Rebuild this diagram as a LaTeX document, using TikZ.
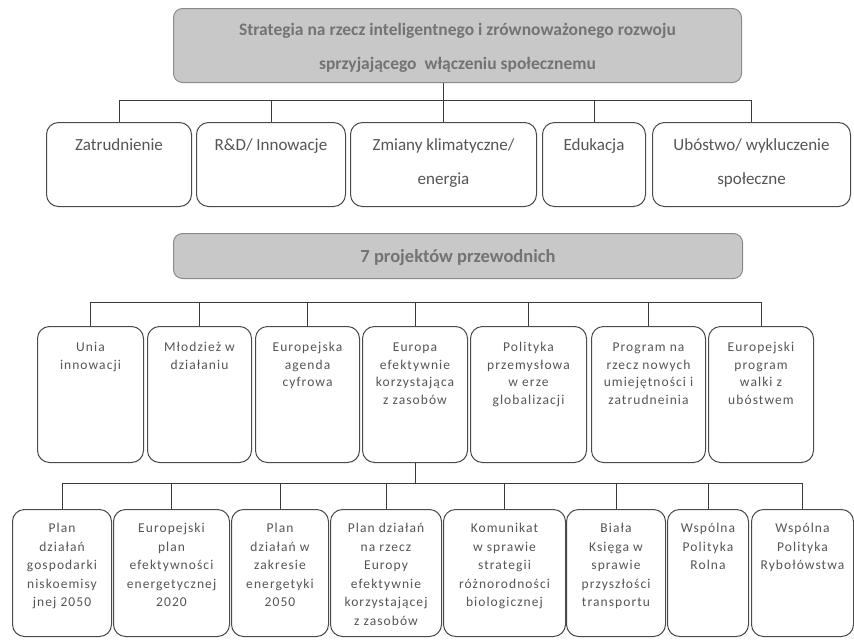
\documentclass[tikz,border=0pt]{standalone}
\usepackage{fontspec}
\setmainfont{Carlito}
\newfontfamily\lsfont[LetterSpace=8]{Carlito}
\definecolor{hdrfill}{HTML}{C8C8C8}
\definecolor{hdrline}{HTML}{8A8A8A}
\definecolor{hdrtext}{HTML}{737373}
\definecolor{boxline}{HTML}{4A4A4A}
\definecolor{txt}{HTML}{555555}
\definecolor{linec}{HTML}{3A3A3A}
\newcommand\cellA[3]{\parbox[c][84pt][t]{#1}{\centering\fontsize{17}{34}\selectfont\rule{0pt}{#2}#3}}
\newcommand\cellB[2]{\parbox[c][136pt][t]{#1}{\centering\lsfont\fontsize{13.5}{17.5}\selectfont\rule{0pt}{25pt}#2}}
\newcommand\cellC[2]{\parbox[c][127pt][t]{#1}{\centering\lsfont\fontsize{13.5}{18.5}\selectfont\rule{0pt}{23pt}#2}}
\tikzset{
  hdr/.style={draw=hdrline, fill=hdrfill, line width=1pt, rounded corners=9pt, inner sep=0pt,
              anchor=north west, text=hdrtext},
  box/.style={draw=boxline, line width=1pt, rounded corners=12pt, inner sep=0pt, anchor=north west, text=txt},
  conn/.style={draw=linec, line width=1pt}
}
\begin{document}
\begin{tikzpicture}[x=1pt,y=-1pt]
\useasboundingbox[fill=white] (0,0) rectangle (854,640);
% top header
\node[hdr] (top) at (173,8)
  {\parbox[c][74pt][t]{568pt}{\centering\bfseries\fontsize{17.5}{34}\selectfont\rule{0pt}{27pt}Strategia na rzecz inteligentnego i zrównoważonego rozwoju\\sprzyjającego\ \ włączeniu społecznemu}};
% row of 5
\node[box] (z1) at (46,122)  {\cellA{145pt}{28pt}{Zatrudnienie}};
\node[box] (z2) at (196,122) {\cellA{149pt}{28pt}{R\&D/ Innowacje}};
\node[box] (z3) at (350,122) {\cellA{186pt}{28pt}{Zmiany klimatyczne/\\energia}};
\node[box] (z4) at (542,122) {\cellA{103pt}{28pt}{Edukacja}};
\node[box] (z5) at (652,122) {\cellA{198pt}{28pt}{Ubóstwo/ wykluczenie\\społeczne}};
\coordinate (bar1) at (0,100);
\draw[conn] (top.south -| z3.north) -- (z3.north);
\draw[conn] (z1.north) -- (z1.north |- bar1) -- (z5.north |- bar1) -- (z5.north);
\draw[conn] (z2.north) -- (z2.north |- bar1);
\draw[conn] (z4.north) -- (z4.north |- bar1);
% second header
\node[hdr] (mid) at (173,233)
  {\parbox[c][45pt][t]{569pt}{\centering\bfseries\fontsize{18.5}{22}\selectfont\rule{0pt}{29pt}7 projektów przewodnich}};
% row of 7
\node[box] (p1) at (37,326)  {\cellB{106pt}{Unia\\innowacji}};
\node[box] (p2) at (147,326) {\cellB{104pt}{Młodzież w\\działaniu}};
\node[box] (p3) at (255,326) {\cellB{104pt}{Europejska\\agenda\\cyfrowa}};
\node[box] (p4) at (362,326) {\cellB{105pt}{Europa\\efektywnie\\korzystająca\\z zasobów}};
\node[box] (p5) at (470,326) {\cellB{116pt}{Polityka\\przemysłowa\\w erze\\globalizacji}};
\node[box] (p6) at (591,326) {\cellB{114pt}{Program na\\rzecz nowych\\umiejętności i\\zatrudneinia}};
\node[box] (p7) at (708,326) {\cellB{105pt}{Europejski\\program\\walki z\\ubóstwem}};
\coordinate (bar2) at (0,302);
\draw[conn] (p1.north) -- (p1.north |- bar2) -- (p7.north |- bar2) -- (p7.north);
\foreach \n in {p2,p3,p4,p5,p6} \draw[conn] (\n.north) -- (\n.north |- bar2);
% bottom row
\node[box] (b1) at (12,509)  {\cellC{99pt}{Plan\\działań\\gospodarki\\niskoemisy\\jnej 2050}};
\node[box] (b2) at (113,509) {\cellC{116pt}{Europejski\\plan\\efektywności\\energetycznej\\2020}};
\node[box] (b3) at (231,509) {\cellC{97pt}{Plan\\działań w\\zakresie\\energetyki\\2050}};
\node[box] (b4) at (330,509) {\cellC{111pt}{Plan działań\\na rzecz\\Europy\\efektywnie\\korzystającej\\z zasobów}};
\node[box] (b5) at (443,509) {\cellC{122pt}{Komunikat\\w sprawie\\strategii\\różnorodności\\biologicznej}};
\node[box] (b6) at (566,509) {\cellC{99pt}{Biała\\Księga w\\sprawie\\przyszłości\\transportu}};
\node[box] (b7) at (667,509) {\cellC{81pt}{Wspólna\\Polityka\\Rolna}};
\node[box] (b8) at (751,509) {\cellC{102pt}{Wspólna\\Polityka\\Rybołówstwa}};
\coordinate (bar3) at (0,483);
\draw[conn] (p4.south) -- (p4.south |- bar3);
\draw[conn] (b1.north) -- (b1.north |- bar3) -- (b8.north |- bar3) -- (b8.north);
\foreach \n in {b2,b3,b4,b5,b6,b7} \draw[conn] (\n.north) -- (\n.north |- bar3);
\end{tikzpicture}
\end{document}
